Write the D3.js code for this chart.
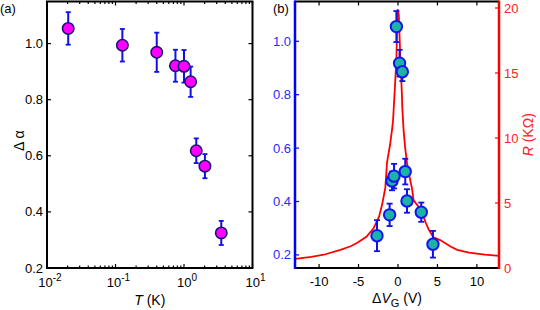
<!DOCTYPE html>
<html>
<head>
<meta charset="utf-8">
<script src="https://d3js.org/d3.v7.min.js"></script>
<style>
  body { margin: 0; background: #fff; }
  svg { font-family: "Liberation Sans", Arial, sans-serif; }
</style>
</head>
<body>
<div id="chart"></div>
<script>
// panel (a): Δα vs T
const tempK = [0.0204, 0.126, 0.40, 0.75, 1.0, 1.25, 1.51, 2.02, 3.5];
const alphaA = [1.054, 0.994, 0.969, 0.921, 0.919, 0.864, 0.618, 0.563, 0.325];
const errA = [0.058, 0.058, 0.07, 0.057, 0.058, 0.054, 0.044, 0.043, 0.043];

// panel (b): Δα vs ΔVG plus R curve
const gateV = [-0.2, 0.2, 0.55, -2.66, -1.06, -0.76, -0.5, 0.92, 1.14, 2.95, 4.43];
const alphaB = [1.055, 0.918, 0.886, 0.272, 0.35, 0.477, 0.495, 0.512, 0.402, 0.36, 0.24];
const errB = [0.058, 0.05, 0.035, 0.058, 0.042, 0.035, 0.046, 0.048, 0.044, 0.036, 0.05];

const curveV = [-13, -11, -9.4, -7.3, -6, -5.2, -4, -3.1, -2.4, -2.0, -1.6, -1.39, -1.0, -0.76, -0.63,
  -0.4, -0.2, -0.05, 0.1, 0.3, 0.5, 0.55, 0.71, 0.9, 1.14, 1.5, 1.77, 1.98, 2.5, 3.0, 3.5, 3.9,
  4.5, 5.35, 6.6, 7.5, 9, 11, 12.8];
const curveR = [0.70, 0.86, 1.02, 1.4, 1.67, 1.92, 2.4, 3.05, 3.95, 4.9, 6.2, 8.1, 9.5, 10.6, 11.3,
  13.8, 16.1, 19.9, 19.5, 16.1, 13.3, 12.3, 10.6, 9.3, 8.1, 6.9, 6.15, 5.2, 4.8, 4.4, 3.5, 2.95,
  2.35, 2.15, 1.67, 1.4, 1.18, 1.03, 0.94];

const svg = d3.select("#chart").append("svg")
  .attr("width", 540).attr("height", 310);

const tickLen = 4;
const fs = 13;

// ---------- panel (a) ----------
const a = { left: 47, right: 252.5, top: 1.5, bottom: 268 };
const xa = d3.scaleLog().domain([0.01, 10]).range([a.left, a.right]);
const ya = d3.scaleLinear().domain([0.2, 1.15]).range([a.bottom, a.top]);

const gA = svg.append("g");
const minorT = [];
[0.01, 0.1, 1].forEach(d => { for (let k = 1; k < 10; k++) minorT.push(d * k); });
minorT.push(10);
const majorT = [0.01, 0.1, 1, 10];

// ticks on bottom and top (inward)
minorT.forEach(t => {
  const len = majorT.includes(t) ? tickLen : 2.5;
  gA.append("line").attr("x1", xa(t)).attr("x2", xa(t))
    .attr("y1", a.bottom).attr("y2", a.bottom - len).attr("stroke", "#000").attr("stroke-width", 1.2);
  gA.append("line").attr("x1", xa(t)).attr("x2", xa(t))
    .attr("y1", a.top).attr("y2", a.top + len).attr("stroke", "#000").attr("stroke-width", 1.2);
});
const yTicksA = [0.2, 0.4, 0.6, 0.8, 1.0];
yTicksA.forEach(v => {
  gA.append("line").attr("x1", a.left).attr("x2", a.left + tickLen)
    .attr("y1", ya(v)).attr("y2", ya(v)).attr("stroke", "#000").attr("stroke-width", 1.2);
  gA.append("line").attr("x1", a.right).attr("x2", a.right - tickLen)
    .attr("y1", ya(v)).attr("y2", ya(v)).attr("stroke", "#000").attr("stroke-width", 1.2);
  gA.append("text").attr("x", a.left - 4).attr("y", ya(v) + 4.5)
    .attr("text-anchor", "end").attr("font-size", fs).text(v.toFixed(1));
});
majorT.forEach((t, i) => {
  const tx = gA.append("text").attr("x", xa(t) + 3).attr("y", a.bottom + 19)
    .attr("text-anchor", "middle").attr("font-size", fs);
  tx.append("tspan").text("10");
  tx.append("tspan").attr("dy", -6).attr("font-size", 10).text(String(i - 2));
});
gA.append("rect").attr("x", a.left).attr("y", a.top)
  .attr("width", a.right - a.left).attr("height", a.bottom - a.top)
  .attr("fill", "none").attr("stroke", "#000").attr("stroke-width", 2);

// error bars + markers
tempK.forEach((t, i) => {
  const x = xa(t);
  const y1 = ya(alphaA[i] + errA[i]), y2 = ya(alphaA[i] - errA[i]);
  gA.append("line").attr("x1", x).attr("x2", x).attr("y1", y1).attr("y2", y2)
    .attr("stroke", "#1010e8").attr("stroke-width", 2);
  [y1, y2].forEach(yy => gA.append("line").attr("x1", x - 2.5).attr("x2", x + 2.5)
    .attr("y1", yy).attr("y2", yy).attr("stroke", "#1010e8").attr("stroke-width", 1.8));
});
gA.selectAll("circle.pa").data(tempK).enter().append("circle")
  .attr("cx", d => xa(d)).attr("cy", (d, i) => ya(alphaA[i])).attr("r", 5.7)
  .attr("fill", "#ff00ff").attr("stroke", "#151570").attr("stroke-width", 1.6);

gA.append("text").attr("x", 0).attr("y", 13).attr("font-size", fs).text("(a)");
gA.append("text").attr("transform", `translate(24,${(a.top + a.bottom) / 2 + 6}) rotate(-90)`)
  .attr("text-anchor", "middle").attr("font-size", 14).text("Δ α");
const xlA = gA.append("text").attr("x", (a.left + a.right) / 2).attr("y", 305)
  .attr("text-anchor", "middle").attr("font-size", 14);
xlA.append("tspan").attr("font-style", "italic").text("T");
xlA.append("tspan").text(" (K)");

// ---------- panel (b) ----------
const b = { left: 295, right: 499, top: 1.5, bottom: 268 };
const xb = d3.scaleLinear().domain([-13.05, 12.8]).range([b.left, b.right]);
const yb = d3.scaleLinear().domain([0.151, 1.149]).range([b.bottom, b.top]);
const yr = d3.scaleLinear().domain([0, 20.5]).range([b.bottom, b.top]);

const gB = svg.append("g");
const xTicksB = [-10, -5, 0, 5, 10];
xTicksB.forEach(v => {
  gB.append("line").attr("x1", xb(v)).attr("x2", xb(v))
    .attr("y1", b.bottom).attr("y2", b.bottom - tickLen).attr("stroke", "#000").attr("stroke-width", 1.2);
  gB.append("line").attr("x1", xb(v)).attr("x2", xb(v))
    .attr("y1", b.top).attr("y2", b.top + tickLen).attr("stroke", "#000").attr("stroke-width", 1.2);
  gB.append("text").attr("x", xb(v)).attr("y", b.bottom + 18)
    .attr("text-anchor", "middle").attr("font-size", fs).text(v < 0 ? "-" + Math.abs(v) : v);
});
const yTicksB = [0.2, 0.4, 0.6, 0.8, 1.0];
yTicksB.forEach(v => {
  gB.append("line").attr("x1", b.left).attr("x2", b.left + tickLen)
    .attr("y1", yb(v)).attr("y2", yb(v)).attr("stroke", "#0000ff").attr("stroke-width", 1.2);
  gB.append("text").attr("x", b.left - 4).attr("y", yb(v) + 4.5).attr("fill", "#2a2aff")
    .attr("text-anchor", "end").attr("font-size", fs).text(v.toFixed(1));
});
const rTicks = [0, 5, 10, 15, 20];
rTicks.forEach(v => {
  gB.append("line").attr("x1", b.right).attr("x2", b.right - tickLen)
    .attr("y1", yr(v)).attr("y2", yr(v)).attr("stroke", "#ff0000").attr("stroke-width", 1.2);
  gB.append("text").attr("x", b.right + 5).attr("y", yr(v) + 4.5).attr("fill", "#ff2020")
    .attr("text-anchor", "start").attr("font-size", fs).text(v);
});

// R curve
const line = d3.line().x(d => xb(d[0])).y(d => yr(d[1]));
gB.append("path").datum(curveV.map((v, i) => [v, curveR[i]]))
  .attr("d", line).attr("fill", "none").attr("stroke", "#ff0000").attr("stroke-width", 1.8);

// frame
gB.append("line").attr("x1", b.left).attr("x2", b.right).attr("y1", b.top).attr("y2", b.top)
  .attr("stroke", "#000").attr("stroke-width", 2);
gB.append("line").attr("x1", b.left).attr("x2", b.right).attr("y1", b.bottom).attr("y2", b.bottom)
  .attr("stroke", "#000").attr("stroke-width", 2);
gB.append("line").attr("x1", b.left).attr("x2", b.left).attr("y1", b.top - 1).attr("y2", b.bottom + 1)
  .attr("stroke", "#0000ff").attr("stroke-width", 2.5);
gB.append("line").attr("x1", b.right).attr("x2", b.right).attr("y1", b.top - 1).attr("y2", b.bottom + 1)
  .attr("stroke", "#ff0000").attr("stroke-width", 2.5);

gateV.forEach((v, i) => {
  const x = xb(v);
  const y1 = yb(alphaB[i] + errB[i]), y2 = yb(alphaB[i] - errB[i]);
  gB.append("line").attr("x1", x).attr("x2", x).attr("y1", y1).attr("y2", y2)
    .attr("stroke", "#1010e8").attr("stroke-width", 2);
  [y1, y2].forEach(yy => gB.append("line").attr("x1", x - 3).attr("x2", x + 3)
    .attr("y1", yy).attr("y2", yy).attr("stroke", "#1010e8").attr("stroke-width", 1.8));
});
gB.selectAll("circle.pb").data(gateV).enter().append("circle")
  .attr("cx", d => xb(d)).attr("cy", (d, i) => yb(alphaB[i])).attr("r", 5.7)
  .attr("fill", "#1ab3a6").attr("stroke", "#1414f0").attr("stroke-width", 2);

gB.append("text").attr("x", 273).attr("y", 13).attr("font-size", fs).text("(b)");
const xlB = gB.append("text").attr("x", (b.left + b.right) / 2).attr("y", 303)
  .attr("text-anchor", "middle").attr("font-size", 14);
xlB.append("tspan").text("Δ");
xlB.append("tspan").attr("font-style", "italic").text("V");
xlB.append("tspan").attr("dy", 4).attr("font-size", 11).text("G");
xlB.append("tspan").attr("dy", -4).text(" (V)");
const rl = gB.append("text").attr("transform", `translate(533,${(b.top + b.bottom) / 2}) rotate(-90)`)
  .attr("text-anchor", "middle").attr("font-size", 14).attr("fill", "#ff2020");
rl.append("tspan").attr("font-style", "italic").text("R");
rl.append("tspan").text(" (KΩ)");
</script>
</body>
</html>
